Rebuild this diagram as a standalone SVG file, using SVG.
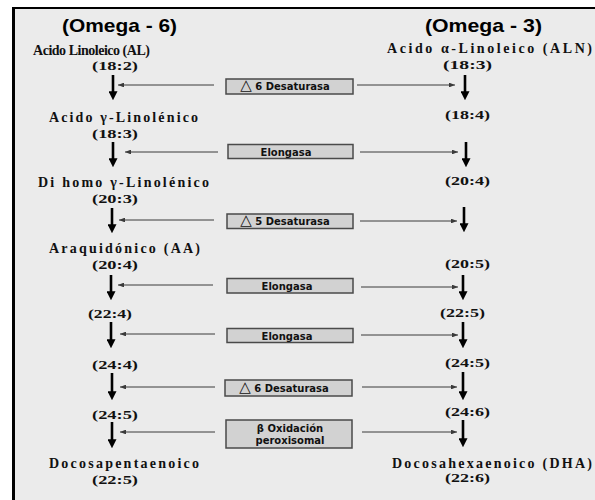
<svg xmlns="http://www.w3.org/2000/svg" width="595" height="500" viewBox="0 0 595 500">
<defs>
<style>
.hd{font-family:"Liberation Sans",Arial,sans-serif;font-weight:bold;font-size:19px;fill:#000;text-anchor:middle}
.nm{font-family:"Liberation Serif","Times New Roman",serif;font-weight:bold;font-size:13px;fill:#111;text-anchor:middle}
.big{font-size:14px}
.en{font-family:"DejaVu Sans",Verdana,sans-serif;font-weight:bold;font-size:10px;fill:#111;text-anchor:middle}
.tri{font-size:15px;font-weight:normal}
.box{fill:#d2d2d2;stroke:#4a4a4a;stroke-width:1.5}
.va{stroke:#000;stroke-width:2.6;fill:none;marker-end:url(#big)}
.hl{stroke:#3a3a3a;stroke-width:1;fill:none;marker-end:url(#sm)}
</style>
<marker id="big" viewBox="0 0 10 10" refX="3" refY="5" markerWidth="9" markerHeight="9" markerUnits="userSpaceOnUse" orient="auto">
<path d="M0,0 L10,5 L0,10 z" fill="#000"/>
</marker>
<marker id="sm" viewBox="0 0 10 8" refX="10" refY="4" markerWidth="6" markerHeight="4.8" markerUnits="userSpaceOnUse" orient="auto">
<path d="M0,0 L10,4 L0,8 z" fill="#3a3a3a"/>
</marker>
</defs>
<rect x="0" y="0" width="595" height="500" fill="#ffffff"/>
<rect x="13" y="8" width="582" height="492" fill="#ebebeb"/>
<line x1="13.5" y1="7" x2="13.5" y2="500" stroke="#000" stroke-width="3"/>
<line x1="12" y1="8" x2="595" y2="8" stroke="#000" stroke-width="2"/>

<g id="headers">
<text class="hd" x="119.5" y="32" textLength="115" lengthAdjust="spacingAndGlyphs">(Omega - 6)</text>
<text class="hd" x="483.5" y="32" textLength="117" lengthAdjust="spacingAndGlyphs">(Omega - 3)</text>
</g>

<g id="n6-al"><text class="nm big" x="91.5" y="55" textLength="117" lengthAdjust="spacing">Acido Linoleico (AL)</text><text class="nm" x="115" y="70" textLength="46" lengthAdjust="spacingAndGlyphs">(18:2)</text></g>
<g id="n6-gla"><text class="nm big" x="123.5" y="122" textLength="149" lengthAdjust="spacing">Acido γ-Linolénico</text><text class="nm" x="115" y="138" textLength="46" lengthAdjust="spacingAndGlyphs">(18:3)</text></g>
<g id="n6-dgla"><text class="nm big" x="123.5" y="187" textLength="171" lengthAdjust="spacing">Di homo γ-Linolénico</text><text class="nm" x="115" y="203" textLength="46" lengthAdjust="spacingAndGlyphs">(20:3)</text></g>
<g id="n6-aa"><text class="nm big" x="124.5" y="253" textLength="151" lengthAdjust="spacing">Araquidónico (AA)</text><text class="nm" x="115" y="269" textLength="46" lengthAdjust="spacingAndGlyphs">(20:4)</text></g>
<g id="n6-224"><text class="nm" x="110" y="318" textLength="44" lengthAdjust="spacingAndGlyphs">(22:4)</text></g>
<g id="n6-244"><text class="nm" x="115" y="369" textLength="46" lengthAdjust="spacingAndGlyphs">(24:4)</text></g>
<g id="n6-245"><text class="nm" x="115" y="419" textLength="46" lengthAdjust="spacingAndGlyphs">(24:5)</text></g>
<g id="n6-dpa"><text class="nm big" x="124" y="468" textLength="150" lengthAdjust="spacing">Docosapentaenoico</text><text class="nm" x="115" y="484" textLength="46" lengthAdjust="spacingAndGlyphs">(22:5)</text></g>

<g id="n3-aln"><text class="nm big" x="489.5" y="53" textLength="205" lengthAdjust="spacing">Acido α-Linoleico  (ALN)</text><text class="nm" x="467.5" y="69" textLength="49" lengthAdjust="spacingAndGlyphs">(18:3)</text></g>
<g id="n3-184"><text class="nm" x="467.5" y="119" textLength="45" lengthAdjust="spacingAndGlyphs">(18:4)</text></g>
<g id="n3-204"><text class="nm" x="467.5" y="185" textLength="45" lengthAdjust="spacingAndGlyphs">(20:4)</text></g>
<g id="n3-205"><text class="nm" x="467.5" y="268" textLength="45" lengthAdjust="spacingAndGlyphs">(20:5)</text></g>
<g id="n3-225"><text class="nm" x="462.5" y="317" textLength="45" lengthAdjust="spacingAndGlyphs">(22:5)</text></g>
<g id="n3-245"><text class="nm" x="467.5" y="367" textLength="45" lengthAdjust="spacingAndGlyphs">(24:5)</text></g>
<g id="n3-246"><text class="nm" x="467.5" y="416" textLength="45" lengthAdjust="spacingAndGlyphs">(24:6)</text></g>
<g id="n3-dha"><text class="nm big" x="492" y="468" textLength="200" lengthAdjust="spacing">Docosahexaenoico (DHA)</text><text class="nm" x="467.5" y="482" textLength="45" lengthAdjust="spacingAndGlyphs">(22:6)</text></g>

<g id="e1-d6"><rect class="box" x="226" y="79" width="127" height="15"/><text class="en" x="285" y="90"><tspan class="tri">△</tspan> 6 Desaturasa</text></g>
<g id="e2-elo"><rect class="box" x="228" y="144.5" width="125" height="14"/><text class="en" x="286" y="155.5">Elongasa</text></g>
<g id="e3-d5"><rect class="box" x="227" y="214" width="126" height="14.5"/><text class="en" x="285" y="225"><tspan class="tri">△</tspan> 5 Desaturasa</text></g>
<g id="e4-elo"><rect class="box" x="227" y="278.5" width="126" height="14.5"/><text class="en" x="287" y="289.5">Elongasa</text></g>
<g id="e5-elo"><rect class="box" x="227" y="328.5" width="126" height="14"/><text class="en" x="287" y="339.5">Elongasa</text></g>
<g id="e6-d6"><rect class="box" x="225" y="380" width="127" height="16"/><text class="en" x="284" y="391.5"><tspan class="tri">△</tspan> 6 Desaturasa</text></g>
<g id="e7-box"><rect class="box" x="226" y="420" width="126" height="28"/><text class="en" x="290" y="431.5">β  Oxidación</text><text class="en" x="290" y="444">peroxisomal</text></g>

<g id="connectors">
<line class="va" x1="113" y1="75" x2="113" y2="94"/>
<line class="va" x1="113" y1="142" x2="113" y2="161"/>
<line class="va" x1="112" y1="208" x2="112" y2="227"/>
<line class="va" x1="111" y1="275" x2="111" y2="294"/>
<line class="va" x1="111" y1="322" x2="111" y2="342"/>
<line class="va" x1="112" y1="373" x2="112" y2="394"/>
<line class="va" x1="112" y1="422" x2="112" y2="442"/>

<line class="va" x1="465" y1="75" x2="465" y2="94"/>
<line class="va" x1="466" y1="142" x2="466" y2="161"/>
<line class="va" x1="464" y1="207" x2="464" y2="226"/>
<line class="va" x1="463" y1="275" x2="463" y2="294"/>
<line class="va" x1="463" y1="322" x2="463" y2="342"/>
<line class="va" x1="463" y1="372" x2="463" y2="394"/>
<line class="va" x1="463" y1="420" x2="463" y2="441"/>

<line class="hl" x1="214" y1="85" x2="118" y2="85"/>
<line class="hl" x1="218" y1="152" x2="125" y2="152"/>
<line class="hl" x1="214" y1="220" x2="119" y2="220"/>
<line class="hl" x1="213" y1="285" x2="118" y2="285"/>
<line class="hl" x1="215" y1="334" x2="120" y2="334"/>
<line class="hl" x1="215" y1="387" x2="120" y2="387"/>
<line class="hl" x1="215" y1="432" x2="120" y2="432"/>

<line class="hl" x1="357" y1="85" x2="455" y2="85"/>
<line class="hl" x1="360" y1="152" x2="458" y2="152"/>
<line class="hl" x1="360" y1="221" x2="457" y2="221"/>
<line class="hl" x1="361" y1="287" x2="458" y2="287"/>
<line class="hl" x1="361" y1="335" x2="458" y2="335"/>
<line class="hl" x1="362" y1="387" x2="457" y2="387"/>
<line class="hl" x1="362" y1="432" x2="457" y2="432"/>
</g>
</svg>
